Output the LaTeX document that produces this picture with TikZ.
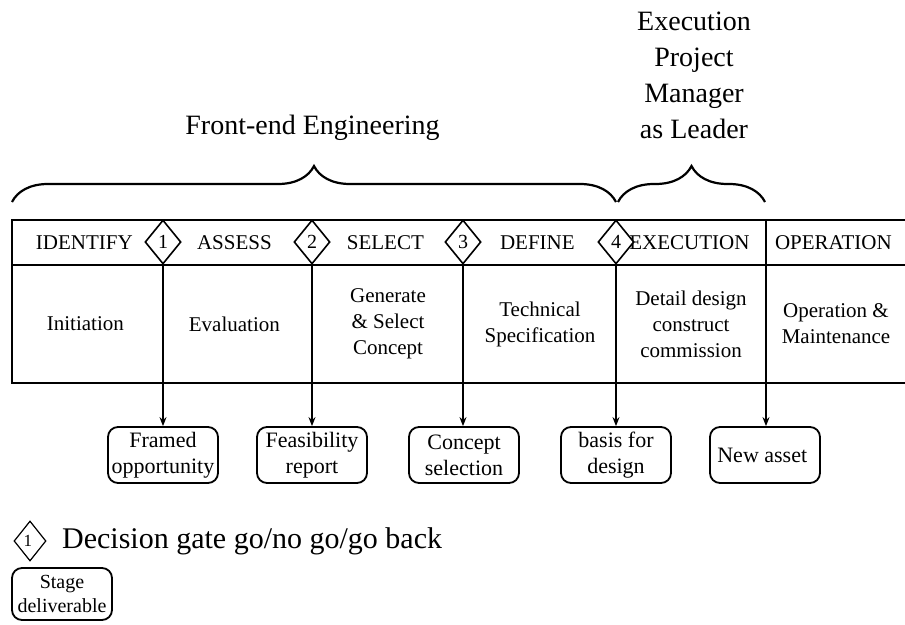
\documentclass[tikz,border=0pt]{standalone}
\usepackage{fontspec}
\setmainfont{Liberation Serif}
\usetikzlibrary{positioning,shapes.geometric,arrows.meta,decorations.pathreplacing}

\begin{document}
\begin{tikzpicture}[x = 1pt, y = -1pt,
    every node/.style = { align = center, font = \fontsize{21}{26}\selectfont },
    gate/.style = { draw, shape = diamond, fill = white, line width = 1.6pt,
      inner sep = 0pt, minimum width = 36pt, minimum height = 44pt,
      font = \fontsize{20}{20}\selectfont },
    deliverable/.style = { draw, rounded corners = 10pt, line width = 1.8pt,
      minimum width = 110pt, minimum height = 56pt, inner sep = 1pt,
      font = \fontsize{22}{26}\selectfont },
    rule/.style = { line width = 2.6pt },
    feed/.style = { line width = 1.3pt, -{Stealth[length = 9pt, width = 7pt]} },
    brace/.style = { decorate, decoration = { brace, amplitude = 36pt }, line width = 2.2pt },
    big/.style = { font = \fontsize{28}{36}\selectfont }]
  \useasboundingbox (0,0) rectangle (905,624);

  % stage table
  \draw[rule] (905,220) -- (12,220) -- (12,383) -- (905,383);
  \draw[rule] (12,265) -- (905,265);
  \draw[rule] (766,220) -- (766,383) coordinate (out5);

  % stage names
  \node (identify)  at (87,243)  { IDENTIFY };
  \node (assess)    at (237,243) { ASSESS };
  \node (select)    at (388,243) { SELECT };
  \node (define)    at (540,243) { DEFINE };
  \node (execution) at (692,243) { EXECUTION };
  \node (operation) at (836,243) { OPERATION };

  % what happens in each stage
  \node (initiation)  at (88,324)  { Initiation };
  \node (evaluation)  at (237,324) { Evaluation };
  \node (generate)    at (388,324) { Generate \\ \& Select \\ Concept };
  \node (technical)   at (540,324) { Technical \\ Specification };
  \node (detail)      at (691,324) { Detail design \\ construct \\ commission };
  \node (maintenance) at (836,324) { Operation \& \\ Maintenance };

  % decision gates between the stages
  \foreach \n/\x in {1/163, 2/312, 3/463, 4/616} {
    \draw[rule] (\x,242) -- (\x,383) coordinate (out\n);
    \node[gate] (gate\n) at (\x,242) { \n };
  }

  % deliverables of the stages
  \node[deliverable] (framed)      at (163,455) { Framed \\ opportunity };
  \node[deliverable] (feasibility) at (312,455) { Feasibility \\ report };
  \node[deliverable] (concept)     at (464,455) { Concept \\ selection };
  \node[deliverable] (basis)       at (616,455) { basis for \\ design };
  \node[deliverable] (asset)       at (765,455) { New asset };

  \draw[feed] (out1) -- (out1 |- framed.north);
  \draw[feed] (out2) -- (out2 |- feasibility.north);
  \draw[feed] (out3) -- (out3 |- concept.north);
  \draw[feed] (out4) -- (out4 |- basis.north);
  \draw[feed] (out5) -- (out5 |- asset.north);

  % phases over the table
  \draw[brace] (12,202) -- (616,202);
  \draw[brace] (618,202) -- (765,202);
  \node[big] (frontend) at (316,128) { Front-end Engineering };
  \node[big] (leader)   at (694,75)  { Execution \\ Project \\ Manager \\ as Leader };

  % key
  \node[gate, minimum width = 32pt, minimum height = 40pt, line width = 1.2pt,
    font = \fontsize{17}{17}\selectfont] (keygate) at (30,541) { 1 };
  \node[right = 12pt of keygate, font = \fontsize{30}{30}\selectfont] (keytext)
    { Decision gate go/no go/go back };
  \node[deliverable, minimum width = 100pt, minimum height = 52pt,
    font = \fontsize{20}{24}\selectfont] (keybox) at (62,594) { Stage \\ deliverable };
\end{tikzpicture}
\end{document}
